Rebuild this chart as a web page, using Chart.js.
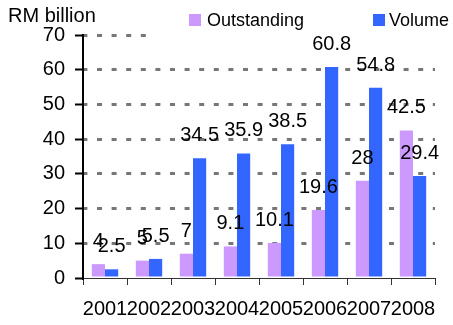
<!DOCTYPE html>
<html>
<head>
<meta charset="utf-8">
<script src="https://cdn.jsdelivr.net/npm/chart.js@4"></script>
<style>
  html, body { margin: 0; padding: 0; background: #fff; }
  #wrap { width: 453px; height: 325px; position: relative; }
</style>
</head>
<body>
<div id="wrap"><canvas id="chart"></canvas></div>
<script>
const years = ["2001", "2002", "2003", "2004", "2005", "2006", "2007", "2008"];
const outstanding = [4, 5, 7, 9.1, 10.1, 19.6, 28, 42.5];
const volume = [2.5, 5.5, 34.5, 35.9, 38.5, 60.8, 54.8, 29.4];
const yTicks = [0, 10, 20, 30, 40, 50, 60, 70];

const FONT = "Arial, 'Liberation Sans', sans-serif";

// value labels above each bar + legend / unit title
const labelsPlugin = {
  id: "barLabels",
  beforeDatasetsDraw(chart) {
    const ctx = chart.ctx;
    // legend box hides the top gridline, like the original
    ctx.save();
    ctx.fillStyle = "#fff";
    ctx.fillRect(148, 30, 305, 10);
    ctx.restore();
  },
  afterDatasetsDraw(chart) {
    const ctx = chart.ctx;
    ctx.save();
    ctx.font = "20px " + FONT;
    ctx.fillStyle = "#000";
    ctx.textAlign = "center";
    ctx.textBaseline = "alphabetic";
    chart.data.datasets.forEach((ds, i) => {
      chart.getDatasetMeta(i).data.forEach((bar, j) => {
        ctx.fillText(String(ds.data[j]), bar.x, bar.y - 17);
      });
    });

    ctx.textAlign = "left";
    ctx.fillText("RM billion", 8, 22);

    ctx.font = "18px " + FONT;
    ctx.fillStyle = chart.data.datasets[0].backgroundColor;
    ctx.fillRect(189, 14, 12, 12);
    ctx.fillStyle = "#000";
    ctx.fillText(chart.data.datasets[0].label, 207, 26);
    ctx.fillStyle = chart.data.datasets[1].backgroundColor;
    ctx.fillRect(373, 14, 12, 12);
    ctx.fillStyle = "#000";
    ctx.fillText(chart.data.datasets[1].label, 389, 26);
    ctx.restore();
  }
};

new Chart(document.getElementById("chart"), {
  type: "bar",
  data: {
    labels: years,
    datasets: [
      { label: "Outstanding", data: outstanding, backgroundColor: "#CC99FF" },
      { label: "Volume", data: volume, backgroundColor: "#3366FF" }
    ]
  },
  options: {
    responsive: true,
    maintainAspectRatio: false,
    animation: false,
    layout: { padding: { top: 35, right: 18, left: 0, bottom: 0 } },
    datasets: { bar: { categoryPercentage: 0.6, barPercentage: 1.0 } },
    plugins: {
      legend: { display: false },
      tooltip: { enabled: false }
    },
    scales: {
      x: {
        grid: {
          offset: true,
          drawOnChartArea: false,
          tickLength: 7,
          tickColor: "#333",
          tickWidth: 1
        },
        border: { color: "#333", width: 1 },
        ticks: {
          color: "#000",
          font: { family: FONT, size: 20 },
          padding: 12,
          maxRotation: 0,
          autoSkip: false
        },
        afterFit(scale) { scale.height = 47; }
      },
      y: {
        min: 0,
        max: 70,
        afterBuildTicks(scale) { scale.ticks = yTicks.map(v => ({ value: v })); },
        grid: {
          color: (c) => (c.tick && c.tick.value === 0 ? "rgba(0,0,0,0)" : "#777"),
          lineWidth: 3,
          tickLength: 8,
          tickColor: "#000",
          tickWidth: 2,
          tickBorderDash: []
        },
        border: { color: "#000", width: 2, dash: [5, 9.6], dashOffset: 1.6 },
        ticks: {
          color: "#000",
          font: { family: FONT, size: 20 },
          padding: 10
        },
        afterFit(scale) { scale.width = 83; }
      }
    }
  },
  plugins: [labelsPlugin]
});
</script>
</body>
</html>
